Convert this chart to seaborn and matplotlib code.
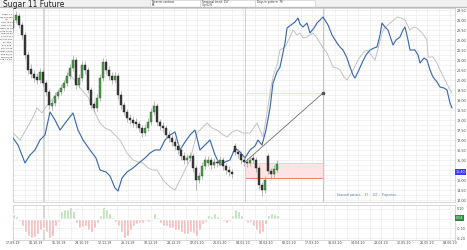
import numpy as np
import pandas as pd
import matplotlib
matplotlib.use("Agg")
import matplotlib.pyplot as plt
from matplotlib.patches import Rectangle
from matplotlib.ticker import MultipleLocator
import seaborn as sns

# ---------------- data ----------------
title = "Sugar 11 Future"

# seasonal / comparison lines (day index, price)
blue_days = [0, 5, 12, 17, 22, 27, 32, 37, 42, 47, 53, 60, 65, 70, 77, 83, 87, 93, 97, 102,
             105, 109, 114, 120, 127, 132, 137, 142, 147, 152, 157, 162, 167, 172, 177, 182, 187, 192, 197, 202,
             207, 212, 217, 222, 227, 232, 237, 242, 245, 249, 253, 257, 260, 264, 267, 272, 274, 278, 282, 285,
             287, 290, 294, 297, 301, 304, 307, 310, 315, 319, 324, 327, 330, 334, 337, 340, 342, 345, 349, 353,
             357, 361, 364, 367, 369, 372, 375, 380, 383, 387, 390, 392, 395, 397, 402, 405, 407, 411, 414, 417,
             420, 424, 427, 431, 434, 437, 439]
blue_vals = [17.10, 16.75, 15.85, 16.25, 16.50, 17.00, 17.25, 18.40, 18.00, 17.50, 17.90, 18.35, 17.50, 17.00, 16.50, 16.10, 15.50, 15.40, 15.20, 14.60,
             14.45, 15.10, 15.40, 15.60, 15.90, 16.10, 16.35, 16.50, 16.50, 17.00, 17.25, 17.40, 16.50, 16.90, 17.25, 17.50, 16.50, 16.75, 17.00, 16.25,
             15.75, 15.90, 16.00, 16.60, 16.40, 16.10, 16.50, 16.70, 17.00, 16.75, 17.50, 18.60, 19.85, 20.40, 20.65, 21.85, 22.60, 22.75, 22.90, 23.10,
             22.80, 22.65, 22.85, 22.35, 22.60, 22.85, 23.00, 23.15, 22.75, 22.25, 21.85, 21.65, 21.50, 21.10, 20.65, 20.25, 20.10, 20.40, 20.85, 21.25,
             21.50, 21.60, 21.65, 22.25, 22.85, 22.65, 22.50, 21.75, 22.00, 22.15, 22.50, 22.65, 22.00, 21.50, 21.50, 21.25, 20.85, 21.10, 21.00, 20.50,
             20.15, 19.90, 19.65, 19.60, 19.50, 18.85, 18.60]

gray_days = [0, 7, 14, 20, 24, 29, 32, 37, 42, 47, 52, 55, 59, 64, 69, 75, 80, 84, 87, 92,
             97, 102, 107, 114, 120, 125, 130, 135, 140, 144, 150, 157, 162, 167, 172, 177, 184, 190, 194, 199,
             204, 209, 214, 219, 224, 230, 237, 244, 247, 250, 254, 257, 260, 264, 267, 272, 277, 280, 284, 287,
             290, 294, 297, 300, 304, 307, 310, 314, 317, 320, 324, 327, 331, 334, 337, 340, 344, 347, 351, 354,
             358, 362, 366, 370, 373, 377, 381, 384, 388, 392, 395, 397, 401, 404, 409, 412, 414, 415, 420, 424,
             427, 432, 436, 439]
gray_vals = [17.35, 17.00, 17.60, 18.15, 18.60, 18.35, 18.60, 18.90, 19.20, 19.50, 19.95, 20.35, 20.15, 19.80, 19.50, 19.15, 18.60, 18.15, 17.85, 17.60,
             17.50, 17.25, 17.00, 16.35, 16.00, 15.90, 15.85, 15.60, 15.50, 15.50, 15.00, 14.65, 14.50, 15.00, 15.50, 16.00, 17.35, 17.65, 17.85, 17.60,
             17.50, 17.30, 17.15, 17.40, 17.50, 17.35, 17.35, 17.85, 17.50, 17.15, 18.35, 19.35, 20.15, 20.75, 21.50, 21.65, 22.15, 22.50, 22.25, 22.35,
             22.10, 22.15, 22.25, 22.35, 22.10, 21.85, 21.60, 21.35, 21.00, 20.65, 20.60, 20.50, 20.15, 20.00, 20.25, 20.50, 20.90, 21.15, 21.40, 21.50,
             21.25, 21.00, 21.75, 22.50, 22.65, 22.85, 23.00, 23.15, 23.10, 23.00, 22.70, 22.50, 22.65, 22.60, 22.35, 22.15, 22.00, 21.15, 21.15, 20.85,
             20.50, 20.00, 19.60, 19.35]

# daily candles (every 3rd day index)
opens = [22.60, 23.00, 23.20, 22.75, 22.25, 21.25, 20.55, 20.30, 20.15, 20.00,
         20.40, 19.85, 19.40, 18.70, 18.85, 19.20, 19.40, 19.60, 19.85, 20.20,
         20.60, 21.00, 19.75, 20.10, 20.75, 20.50, 19.50, 18.80, 18.60, 19.10,
         20.10, 20.90, 20.50, 20.20, 20.00, 20.20, 19.25, 18.75, 18.40, 18.10,
         18.00, 17.90, 17.80, 17.60, 17.35, 17.60, 17.90, 18.40, 18.70, 17.90,
         17.70, 17.60, 17.25, 17.10, 16.90, 16.70, 16.50, 16.20, 16.00, 16.10,
         16.20, 15.60, 15.00, 15.20, 15.70, 15.85, 16.00, 15.75, 15.90, 15.85,
         16.00, 15.70, 15.50, 15.40, 16.70, 16.40, 16.30, 16.00, 15.90, 15.85,
         16.10, 16.00, 15.60, 14.75, 14.50, 16.20, 15.45, 15.30, 15.50]
closes = [23.00, 23.25, 22.75, 22.25, 21.25, 20.50, 20.30, 20.10, 20.00, 20.40,
          19.85, 19.40, 18.75, 18.85, 19.20, 19.40, 19.60, 19.85, 20.20, 20.60,
          21.00, 19.75, 20.10, 20.75, 20.50, 19.50, 18.75, 18.60, 19.10, 20.10,
          20.90, 20.50, 20.20, 20.00, 20.20, 19.25, 18.75, 18.40, 18.10, 18.00,
          17.85, 17.80, 17.60, 17.35, 17.60, 17.90, 18.40, 18.70, 17.90, 17.70,
          17.60, 17.25, 17.10, 16.90, 16.70, 16.50, 16.20, 16.00, 16.10, 16.20,
          15.60, 15.00, 15.20, 15.70, 16.00, 16.00, 15.75, 15.90, 15.85, 16.00,
          15.70, 15.50, 15.40, 15.30, 16.40, 16.30, 16.00, 15.90, 15.85, 16.00,
          16.00, 15.60, 14.75, 14.50, 15.00, 15.45, 15.30, 15.55, 15.80]
highs = [23.30, 23.45, 23.35, 22.90, 22.40, 21.45, 20.80, 20.50, 20.35, 20.60,
         20.55, 20.00, 19.55, 19.05, 19.40, 19.55, 19.80, 20.00, 20.40, 20.80,
         21.25, 21.15, 20.30, 20.95, 20.95, 20.65, 19.65, 18.95, 19.30, 20.30,
         21.10, 21.05, 20.70, 20.40, 20.40, 20.35, 19.45, 18.90, 18.55, 18.30,
         18.20, 18.10, 17.95, 17.75, 17.80, 18.10, 18.60, 18.95, 18.85, 18.05,
         17.90, 17.75, 17.45, 17.25, 17.10, 16.90, 16.70, 16.40, 16.30, 16.40,
         16.35, 15.75, 15.40, 15.90, 16.20, 16.20, 16.15, 16.10, 16.05, 16.20,
         16.15, 15.85, 15.70, 15.55, 16.85, 16.55, 16.45, 16.20, 16.10, 16.20,
         16.30, 16.15, 15.75, 14.90, 15.20, 16.35, 15.60, 15.75, 16.00]
lows = [22.40, 22.85, 22.60, 22.05, 21.05, 20.30, 20.10, 19.90, 19.80, 19.85,
        19.70, 19.20, 18.55, 18.50, 18.70, 19.05, 19.25, 19.45, 19.70, 20.05,
        20.45, 19.55, 19.60, 19.95, 20.30, 19.35, 18.55, 18.40, 18.45, 18.95,
        19.95, 20.30, 20.00, 19.80, 19.85, 19.05, 18.55, 18.25, 17.90, 17.80,
        17.65, 17.60, 17.40, 17.15, 17.20, 17.45, 17.75, 18.25, 17.70, 17.50,
        17.40, 17.05, 16.90, 16.70, 16.50, 16.30, 16.00, 15.80, 15.85, 15.95,
        15.40, 14.50, 14.85, 15.05, 15.55, 15.70, 15.55, 15.60, 15.65, 15.70,
        15.50, 15.30, 15.20, 15.10, 16.25, 16.10, 15.80, 15.70, 15.65, 15.70,
        15.85, 15.40, 14.55, 14.20, 14.35, 15.30, 15.05, 15.15, 15.40]

# lower-panel oscillator (one value per candle)
hist_vals = [5, 3, -2, -8, -14, -18, -20, -19, -16, -12,
             -10, -14, -20, -18, -8, -3, 8, 10, 10, 12,
             8, -5, -10, -9, -8, -12, -14, -10, -4, 4,
             12, 10, 6, 2, -3, -8, -14, -20, -18, -12,
             -8, -6, -4, -4, -2, -3, -2, 6, 2, -4,
             -8, -8, -10, -10, -12, -12, -14, -16, -16, -14,
             -15, -18, -12, -6, -3, 4, 3, 6, 3, 2,
             -2, -4, -2, 4, 10, 8, 4, -2, -4, -3,
             -8, -12, -16, -14, -6, 4, 6, 5, 4]

# projection / annotations
today_day = 232
target_day = 310
marker_day = 31
zone_low, zone_high = 15.10, 15.85
arrow_start = 15.90
arrow_end = 19.35
last_price = 15.40

price_ticks = [14.0, 14.5, 15.0, 15.5, 16.0, 16.5, 17.0, 17.5, 18.0, 18.5,
               19.0, 19.5, 20.0, 20.5, 21.0, 21.5, 22.0, 22.5, 23.0, 23.5]
date_labels = ["17.09.19", "01.10.19", "15.10.19", "29.10.19", "12.11.19", "26.11.19",
               "10.12.19", "24.12.19", "07.01.20", "21.01.20", "04.02.20", "18.02.20",
               "03.03.20", "17.03.20", "31.03.20", "14.04.20", "28.04.20", "12.05.20",
               "26.05.20", "09.06.20"]

# ---------------- figure ----------------
sns.set_theme(style="white")
plt.rcParams['font.family'] = ['DejaVu Sans']

fig = plt.figure(figsize=(4.67, 2.5), dpi=100)
fig.patch.set_facecolor("white")
W, H = 467.0, 250.0

ax = fig.add_axes([13 / W, (H - 202) / H, 442 / W, 194 / H])
ax2 = fig.add_axes([13 / W, (H - 240) / H, 442 / W, 35 / H], sharex=ax)

for a in (ax, ax2):
    a.set_facecolor("white")
    for s in a.spines.values():
        s.set_color("#c8c8c8")
        s.set_linewidth(0.5)
    a.xaxis.set_major_locator(MultipleLocator(23))
    a.xaxis.set_minor_locator(MultipleLocator(11.5))
    a.grid(which="both", axis="x", color="#ececec", linewidth=0.5)
    a.tick_params(axis="both", which="both", length=0, pad=1)

ax.set_xlim(0, 442)
ax.set_ylim(13.9, 23.6)
ax.yaxis.set_major_locator(MultipleLocator(0.5))
ax.yaxis.set_minor_locator(MultipleLocator(0.25))
ax.grid(which="both", axis="y", color="#ececec", linewidth=0.5)
ax.yaxis.tick_right()
ax.set_yticks(price_ticks)
ax.set_yticklabels([f"{v:.2f}" for v in price_ticks], fontsize=2.4, color="#444444")
ax.tick_params(axis="x", labelbottom=False)

# seasonal lines
df_gray = pd.DataFrame({"day": gray_days, "price": gray_vals})
df_blue = pd.DataFrame({"day": blue_days, "price": blue_vals})
sns.lineplot(data=df_gray, x="day", y="price", ax=ax, color="#c2c2c2", linewidth=0.7, zorder=3)
sns.lineplot(data=df_blue, x="day", y="price", ax=ax, color="#3d6cab", linewidth=0.85, zorder=4)

# candles
cdays = np.arange(len(closes)) * 3
o = np.array(opens); c = np.array(closes)
up = c >= o
ax.vlines(cdays, lows, highs, color="#a0a0a0", linewidth=0.5, zorder=5)
ax.bar(cdays[up], (c - o)[up], bottom=o[up], width=1.8, color="#4c9a4c",
       edgecolor="#2f5f2f", linewidth=0.3, zorder=6)
ax.bar(cdays[~up], (c - o)[~up], bottom=o[~up], width=1.8, color="#3a3a3a",
       edgecolor="#222222", linewidth=0.3, zorder=6)

# projection zone, lines and arrow
ax.add_patch(Rectangle((today_day, zone_low), target_day - today_day, zone_high - zone_low,
                       facecolor="#fde3e3", edgecolor="none", zorder=2))
ax.hlines(zone_low, today_day, target_day, color="#ee7b7b", linewidth=0.7, zorder=2)
ax.hlines(zone_high, today_day, target_day, color="#f6c3c3", linewidth=0.4, zorder=2)
ax.axvline(today_day, color="#b9e2b2", linewidth=0.7, zorder=2)
ax.axvline(target_day, color="#f6a0a0", linewidth=0.6, zorder=2)
ax.axvline(marker_day, color="#cccccc", linewidth=1.1, zorder=2)
ax2.axvline(marker_day, color="#cccccc", linewidth=1.1, zorder=2)
ax.hlines(arrow_end, today_day, target_day, color="#d5ebcd", linewidth=0.6, zorder=2)
ax.plot([today_day, target_day], [arrow_start, arrow_end], color="#707070", linewidth=0.6, zorder=7)
ax.plot([target_day], [arrow_end], marker="s", markersize=1.5, color="#555555", zorder=7)

# last price label
ax.text(1.002, (last_price - 13.9) / (23.6 - 13.9), f"{last_price:.2f}", transform=ax.transAxes,
        fontsize=2.4, color="white", va="center", ha="left",
        bbox=dict(boxstyle="square,pad=0.25", facecolor="#3b3bff", edgecolor="none"))
ax.text(0.80, 0.035, "Seasonal pattern  ·  5Y  ·  15Y  ·  Projection", transform=ax.transAxes,
        fontsize=2.0, color="#5577aa", ha="center", va="center")

# lower panel
hdays = np.arange(len(hist_vals)) * 3
hv = np.array(hist_vals)
ax2.bar(hdays[hv >= 0], hv[hv >= 0], width=3.0, color="#b4dcae", zorder=3)
ax2.bar(hdays[hv < 0], hv[hv < 0], width=3.0, color="#f6b3b3", zorder=3)
ax2.set_ylim(-22, 14)
ax2.yaxis.tick_right()
ax2.set_yticks([-20, -10, 0, 10])
ax2.set_yticklabels(["-0.20", "-0.10", "0.00", "0.10"], fontsize=2.4, color="#444444")
ax2.grid(which="major", axis="y", color="#ececec", linewidth=0.5)
ax2.set_xticks(np.arange(len(date_labels)) * 23)
ax2.set_xticklabels(date_labels, fontsize=2.3, color="#444444")
ax2.set_xlabel("")
ax.set_xlabel("")
ax.set_ylabel("")
ax2.text(1.002, 0.62, "0.04", transform=ax2.transAxes, fontsize=2.4, color="white",
         va="center", ha="left",
         bbox=dict(boxstyle="square,pad=0.25", facecolor="#2e8b3e", edgecolor="none"))

# header bar
fig.patches.append(Rectangle((0, (H - 7) / H), 1, 7 / H, transform=fig.transFigure,
                             facecolor="#f1f1f1", edgecolor="none", zorder=0))
fig.lines.append(plt.Line2D([0, 1], [(H - 7) / H] * 2, transform=fig.transFigure,
                            color="#bdbdbd", linewidth=1.0))
fig.text(3 / W, (H - 4.5) / H, title, fontsize=5.5, color="#222222", va="center", ha="left")
for x0, x1, t1, t2 in [(150, 200, "Nearest contract", "SB"), (200, 255, "Seasonal trend: 15Y", "Up 62%"),
                       (255, 315, "Days in pattern: 78", "")]:
    fig.patches.append(Rectangle((x0 / W, (H - 7) / H), (x1 - x0) / W, 7 / H, transform=fig.transFigure,
                                 facecolor="white", edgecolor="#c8c8c8", linewidth=0.4))
    fig.text((x0 + 2) / W, (H - 2.2) / H, t1, fontsize=1.9, color="#333333", va="center")
    fig.text((x0 + 2) / W, (H - 5.2) / H, t2, fontsize=1.9, color="#333333", va="center")

# left info column
left_lines = ["Sugar 11", "SB 07/2020", "ICE", "Last 15.40", "Chg -0.22", "Open 15.62", "High 15.81",
              "Low 15.30", "Vol 84,211", "OI 201,530", "5Y avg", "15Y avg", "Proj 19.35",
              "Start 05/08", "End 07/21", "Win 10/15", "Avg +7.2%"]
for i, t in enumerate(left_lines):
    y = 14 + i * 2.85
    fig.text(6.5 / W, (H - y) / H, t, fontsize=1.6, color="#333333", ha="center", va="center")
    fig.lines.append(plt.Line2D([0.5 / W, 12.5 / W], [(H - y - 1.4) / H] * 2, transform=fig.transFigure,
                                color="#d0d0d0", linewidth=0.3))

fig.savefig("out.png", dpi=100, facecolor="white")
